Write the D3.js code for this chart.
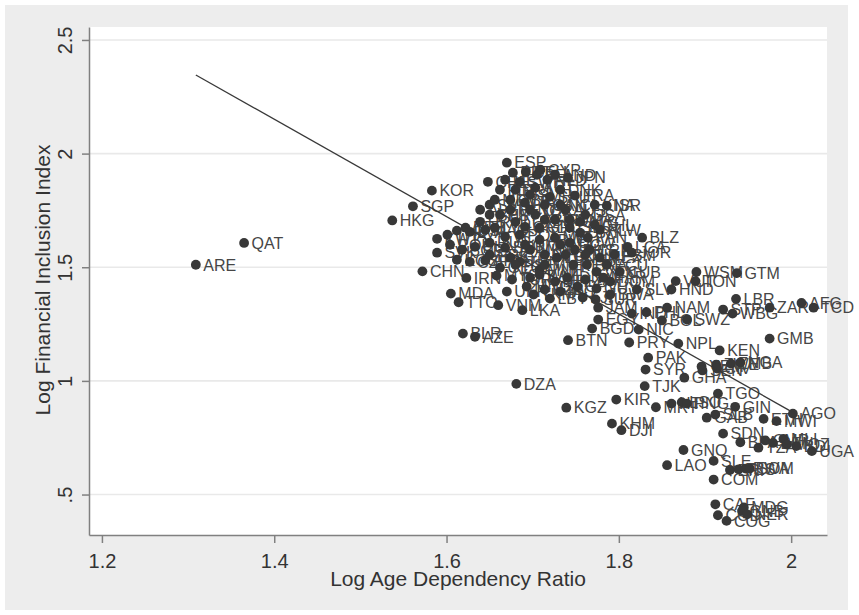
<!DOCTYPE html>
<html><head><meta charset="utf-8">
<script src="https://cdn.jsdelivr.net/npm/d3@7"></script>
<style>body{margin:0;background:#fff}svg{display:block}</style>
</head><body>
<svg id="chart" width="859" height="615"></svg>
<script>
// ---- data (log10 age dependency ratio, log financial inclusion index) ----
const codes = [
 "ARE","QAT","HKG","SGP","KOR","CHN","IRN","MDA","TTO","BLR","AZE","VNM","LKA",
 "ESP","CHE","JPN","ISR","PRT","DEU","BEL","CYP","NLD","SWE","FIN","AUT","DNK","FRA","GBR","ITA","CAN","AUS",
 "SVN","ALB","EST","NZL","IRL","USA","HRV","LUX","LTU","GRC","ISL","CHL","LVA","POL","MLT","URY","PAN",
 "THA","KWT","MUS","BRB","SVK","ROU","BGR","HUN","RUS","SRB","MKD","BIH","COL","CRI","MEX","CZE","ARM",
 "GEO","TUN","MNE","LBN","PER","BRA","ECU","VEN","DOM","MYS","TUR","KAZ","IDN","ZAF","MAR","MNG","UZB",
 "IRQ","CPV","GUY","UKR","TKM","LBY","FJI","SUR","LCA","BLZ","JOR","SAU","BHR","OMN","ARG","SYC","BHS",
 "NOR","PRI","BRN","ATG",
 "KNA","LIE","AND","SMR","MDV","DMA","GRD","VCT","ABW","CUW","PLW","KOS","PSE","TWN","MHL","CUB","FSM",
 "MAC","MCO","NCL","VIR","MMR","PRK",
 "EGY","BWA","JAM","BGD","NIC","BTN","PRY","DZA","NPL","KEN","GMB","PAK","SYR","TJK","GHA","YEM","SEN",
 "ZWE","CIV","ZMB","NGA","TGO","GIN","AGO","ETH","MWI","GAB","SLB","KGZ","KIR","MRT","HTI","LSO","PNG",
 "KHM","DJI","GNQ","LAO","SLE","COM","SDN","BFA","TZA","CMR","BEN","MLI","MOZ","BDI","UGA","ERI","TLS",
 "RWA","SOM","CAF","MDG","GNB","NER","COD","COG",
 "WSM","GTM","VUT","TON","SLV","HND","LBR","ZAR","AFG","TCD","STP","WBG","NAM","BOL","SWZ","IND","PHL"
];
const ageDep = [
 1.309,1.365,1.537,1.561,1.583,1.572,1.623,1.605,1.614,1.619,1.633,1.660,1.688,
 1.670,1.648,1.741,1.786,1.677,1.692,1.705,1.709,1.717,1.685,1.662,1.703,1.732,1.749,1.674,1.691,1.714,1.738,
 1.650,1.639,1.662,1.703,1.726,1.761,1.639,1.680,1.656,1.708,1.743,1.772,1.627,1.685,1.726,1.755,1.764,
 1.601,1.589,1.612,1.622,1.589,1.604,1.618,1.633,1.650,1.668,1.697,1.714,1.738,1.766,1.778,1.627,1.645,
 1.662,1.685,1.708,1.728,1.747,1.763,1.786,1.774,1.790,1.658,1.676,1.708,1.740,1.761,1.782,1.693,1.714,
 1.732,1.752,1.774,1.670,1.701,1.720,1.758,1.773,1.810,1.827,1.815,1.720,1.650,1.691,1.732,1.674,1.749,
 1.697,1.680,1.714,1.755,
 1.772,1.668,1.726,1.697,1.656,1.743,1.691,1.668,1.708,1.743,1.778,1.612,1.680,1.697,1.726,1.801,1.795,
 1.645,1.674,1.732,1.761,1.714,1.650,
 1.776,1.790,1.776,1.769,1.823,1.741,1.812,1.681,1.869,1.917,1.975,1.834,1.831,1.830,1.876,1.896,1.897,
 1.913,1.914,1.930,1.941,1.915,1.935,2.002,1.968,1.983,1.902,1.912,1.739,1.797,1.843,1.861,1.873,1.879,
 1.792,1.803,1.875,1.856,1.910,1.910,1.921,1.941,1.962,1.970,1.979,1.991,1.995,2.006,2.024,1.929,1.939,
 1.947,1.952,1.912,1.945,1.943,1.949,1.915,1.925,
 1.890,1.937,1.866,1.889,1.821,1.861,1.936,1.975,2.012,2.026,1.921,1.932,1.856,1.850,1.879,1.815,1.832
];
const finInc = [
 1.511,1.607,1.706,1.768,1.837,1.482,1.453,1.384,1.346,1.208,1.194,1.333,1.311,
 1.960,1.876,1.894,1.771,1.916,1.920,1.907,1.929,1.885,1.876,1.841,1.850,1.841,1.815,1.797,1.784,1.775,1.753,
 1.775,1.753,1.731,1.731,1.709,1.731,1.700,1.700,1.674,1.674,1.674,1.687,1.656,1.643,1.630,1.652,1.630,
 1.643,1.625,1.661,1.674,1.564,1.599,1.577,1.590,1.608,1.586,1.577,1.555,1.555,1.577,1.542,1.524,1.530,
 1.498,1.524,1.489,1.542,1.511,1.511,1.511,1.480,1.437,1.463,1.446,1.467,1.454,1.446,1.454,1.415,1.402,
 1.393,1.415,1.406,1.393,1.380,1.362,1.367,1.358,1.590,1.630,1.564,1.810,1.731,1.599,1.599,1.542,1.577,
 1.753,1.841,1.709,1.700,
 1.775,1.885,1.907,1.819,1.797,1.709,1.678,1.634,1.621,1.608,1.665,1.533,1.511,1.454,1.437,1.480,1.555,
 1.665,1.753,1.775,1.555,1.511,1.555,
 1.270,1.380,1.322,1.230,1.226,1.179,1.169,0.987,1.164,1.134,1.186,1.102,1.050,0.977,1.014,1.063,1.046,
 1.072,1.054,1.076,1.081,0.944,0.886,0.856,0.833,0.823,0.838,0.852,0.882,0.918,0.884,0.900,0.906,0.900,
 0.812,0.783,0.696,0.629,0.648,0.566,0.768,0.730,0.706,0.738,0.727,0.745,0.720,0.713,0.691,0.608,0.611,
 0.614,0.614,0.457,0.443,0.428,0.413,0.409,0.384,
 1.479,1.474,1.439,1.439,1.402,1.402,1.361,1.322,1.343,1.322,1.314,1.296,1.322,1.266,1.270,1.296,1.302
];
const xTicks = [1.2, 1.4, 1.6, 1.8, 2];
const xTickLabels = ["1.2", "1.4", "1.6", "1.8", "2"];
const yTicks = [0.5, 1, 1.5, 2, 2.5];
const yTickLabels = [".5", "1", "1.5", "2", "2.5"];
const fitX = [1.309, 2.004];
const fitY = [2.346, 0.857];
const xTitle = "Log Age Dependency Ratio";
const yTitle = "Log Financial Inclusion Index";

// ---- drawing ----
const svg = d3.select("#chart");
const FONT = "'Liberation Sans', Arial, Helvetica, sans-serif";
const plot = {left: 89, right: 827, top: 27, bottom: 535};

svg.append("rect").attr("x", 5).attr("y", 5).attr("width", 843).attr("height", 605).attr("fill", "#ededed");
svg.append("rect").attr("x", plot.left).attr("y", plot.top)
  .attr("width", plot.right - plot.left).attr("height", plot.bottom - plot.top).attr("fill", "#fff");

const x = d3.scaleLinear().domain([1.185, 2.0416]).range([plot.left, plot.right]);
const y = d3.scaleLinear().domain([0.322, 2.557]).range([plot.bottom, plot.top]);

// gridlines
svg.append("g").selectAll("line").data(yTicks).join("line")
  .attr("x1", plot.left).attr("x2", plot.right)
  .attr("y1", d => y(d)).attr("y2", d => y(d))
  .attr("stroke", "#e9e9e9").attr("stroke-width", 1.6);

// axes
const yAxis = svg.append("g").attr("transform", `translate(${plot.left},0)`)
  .call(d3.axisLeft(y).tickValues(yTicks).tickFormat((d, i) => yTickLabels[i]).tickSize(7).tickSizeOuter(0));
yAxis.selectAll("text").attr("transform", "rotate(-90)").attr("x", 0).attr("y", -17).attr("dy", 0)
  .attr("text-anchor", "middle");
const xAxis = svg.append("g").attr("transform", `translate(0,${plot.bottom})`)
  .call(d3.axisBottom(x).tickValues(xTicks).tickFormat((d, i) => xTickLabels[i]).tickSize(8).tickSizeOuter(0));
xAxis.selectAll("text").attr("y", 33).attr("dy", 0);
[xAxis, yAxis].forEach(a => {
  a.select(".domain").attr("stroke", "#808080").attr("stroke-width", 1.5);
  a.selectAll(".tick line").attr("stroke", "#808080").attr("stroke-width", 1.5);
  a.selectAll("text").attr("fill", "#333").style("font-family", FONT).style("font-size", "20px");
});

// axis titles
svg.append("text").attr("x", 458).attr("y", 586).attr("text-anchor", "middle")
  .style("font-family", FONT).style("font-size", "21px").attr("fill", "#333").text(xTitle);
svg.append("text").attr("transform", "translate(50,280) rotate(-90)").attr("text-anchor", "middle")
  .style("font-family", FONT).style("font-size", "21px").attr("fill", "#333").text(yTitle);

const pts = codes.map((c, i) => ({c, x: ageDep[i], y: finInc[i]}));

// labels
svg.append("g").selectAll("text").data(pts).join("text")
  .attr("x", d => x(d.x) + 7.5).attr("y", d => y(d.y)).attr("dy", "0.36em")
  .style("font-family", FONT).style("font-size", "16px").attr("fill", "#464646")
  .text(d => d.c);

// markers
svg.append("g").selectAll("circle").data(pts).join("circle")
  .attr("cx", d => x(d.x)).attr("cy", d => y(d.y)).attr("r", 4.9).attr("fill", "#383838");

// fitted line
svg.append("line").attr("x1", x(fitX[0])).attr("y1", y(fitY[0]))
  .attr("x2", x(fitX[1])).attr("y2", y(fitY[1]))
  .attr("stroke", "#383838").attr("stroke-width", 1.3);
</script>
</body></html>
